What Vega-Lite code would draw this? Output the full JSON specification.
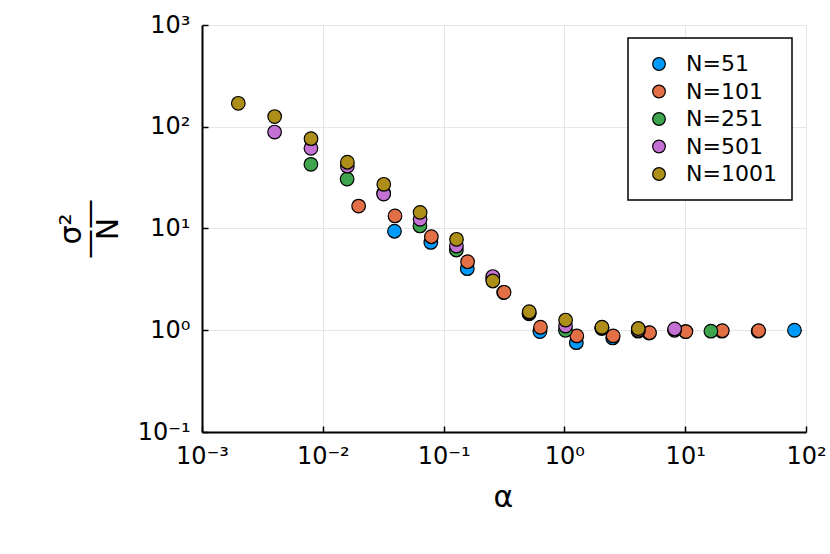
{
  "$schema": "https://vega.github.io/schema/vega-lite/v6.json",
  "width": 604,
  "height": 407,
  "autosize": "none",
  "padding": {"left": 202, "top": 25, "right": 24, "bottom": 122},
  "background": "white",
  "data": {
    "values": [
      {"series": "N=51", "alpha": 0.0392, "s": 9.4},
      {"series": "N=51", "alpha": 0.0784, "s": 7.3},
      {"series": "N=51", "alpha": 0.157, "s": 4.03},
      {"series": "N=51", "alpha": 0.314, "s": 2.35},
      {"series": "N=51", "alpha": 0.627, "s": 0.97},
      {"series": "N=51", "alpha": 1.255, "s": 0.755},
      {"series": "N=51", "alpha": 2.51, "s": 0.84},
      {"series": "N=51", "alpha": 5.02, "s": 0.94},
      {"series": "N=51", "alpha": 10.04, "s": 0.97},
      {"series": "N=51", "alpha": 20.08, "s": 0.98},
      {"series": "N=51", "alpha": 40.16, "s": 0.98},
      {"series": "N=51", "alpha": 80.3, "s": 1.0},
      {"series": "N=101", "alpha": 0.0198, "s": 16.6},
      {"series": "N=101", "alpha": 0.0396, "s": 13.3},
      {"series": "N=101", "alpha": 0.0792, "s": 8.3},
      {"series": "N=101", "alpha": 0.158, "s": 4.72},
      {"series": "N=101", "alpha": 0.317, "s": 2.36},
      {"series": "N=101", "alpha": 0.634, "s": 1.07},
      {"series": "N=101", "alpha": 1.267, "s": 0.88},
      {"series": "N=101", "alpha": 2.535, "s": 0.88},
      {"series": "N=101", "alpha": 5.07, "s": 0.946},
      {"series": "N=101", "alpha": 10.14, "s": 0.97},
      {"series": "N=101", "alpha": 20.28, "s": 0.99},
      {"series": "N=101", "alpha": 40.55, "s": 0.99},
      {"series": "N=251", "alpha": 0.00797, "s": 42.7},
      {"series": "N=251", "alpha": 0.0159, "s": 30.6},
      {"series": "N=251", "alpha": 0.0319, "s": 22.3},
      {"series": "N=251", "alpha": 0.0637, "s": 10.6},
      {"series": "N=251", "alpha": 0.1275, "s": 6.15},
      {"series": "N=251", "alpha": 0.255, "s": 3.2},
      {"series": "N=251", "alpha": 0.51, "s": 1.45},
      {"series": "N=251", "alpha": 1.02, "s": 1.0},
      {"series": "N=251", "alpha": 2.04, "s": 1.04},
      {"series": "N=251", "alpha": 4.08, "s": 0.98},
      {"series": "N=251", "alpha": 8.16, "s": 1.0},
      {"series": "N=251", "alpha": 16.32, "s": 0.98},
      {"series": "N=501", "alpha": 0.00399, "s": 88.7},
      {"series": "N=501", "alpha": 0.00798, "s": 61.4},
      {"series": "N=501", "alpha": 0.01597, "s": 41},
      {"series": "N=501", "alpha": 0.0319, "s": 21.8},
      {"series": "N=501", "alpha": 0.0639, "s": 12.3},
      {"series": "N=501", "alpha": 0.1277, "s": 6.73},
      {"series": "N=501", "alpha": 0.2555, "s": 3.37},
      {"series": "N=501", "alpha": 0.511, "s": 1.48},
      {"series": "N=501", "alpha": 1.022, "s": 1.1},
      {"series": "N=501", "alpha": 2.044, "s": 1.06},
      {"series": "N=501", "alpha": 4.088, "s": 1.0},
      {"series": "N=501", "alpha": 8.176, "s": 1.03},
      {"series": "N=1001", "alpha": 0.001998, "s": 170},
      {"series": "N=1001", "alpha": 0.003996, "s": 126},
      {"series": "N=1001", "alpha": 0.00799, "s": 76.4},
      {"series": "N=1001", "alpha": 0.01598, "s": 44.8},
      {"series": "N=1001", "alpha": 0.03197, "s": 27.2},
      {"series": "N=1001", "alpha": 0.0639, "s": 14.4},
      {"series": "N=1001", "alpha": 0.1279, "s": 7.83},
      {"series": "N=1001", "alpha": 0.2557, "s": 3.05},
      {"series": "N=1001", "alpha": 0.5115, "s": 1.52},
      {"series": "N=1001", "alpha": 1.023, "s": 1.26},
      {"series": "N=1001", "alpha": 2.046, "s": 1.07},
      {"series": "N=1001", "alpha": 4.092, "s": 1.04}
    ]
  },
  "mark": {"type": "point", "filled": true, "size": 185, "stroke": "black", "strokeWidth": 1.2, "opacity": 1},
  "encoding": {
    "x": {
      "field": "alpha", "type": "quantitative",
      "scale": {"type": "log", "domain": [0.001, 100], "nice": false},
      "axis": {
        "title": "α",
        "values": [0.001, 0.01, 0.1, 1, 10, 100],
        "titleX": 301, "titleY": 65, "titleBaseline": "middle"
      }
    },
    "y": {
      "field": "s", "type": "quantitative",
      "scale": {"type": "log", "domain": [0.1, 1000], "nice": false},
      "axis": {
        "title": ["σ²", "——", "N"],
        "values": [0.1, 1, 10, 100, 1000],
        "titleAngle": -90, "titleX": -131, "titleY": 203.5,
        "titleBaseline": "middle", "titleAlign": "center", "titleLineHeight": 18.5
      }
    },
    "color": {
      "field": "series", "type": "nominal",
      "scale": {
        "domain": ["N=51", "N=101", "N=251", "N=501", "N=1001"],
        "range": ["#009AFA", "#E36F47", "#3EA44E", "#C371D2", "#AC8E18"]
      },
      "legend": {
        "title": null, "orient": "none", "legendX": 426, "legendY": 13
      }
    }
  },
  "config": {
    "font": "DejaVu Sans",
    "view": {"stroke": null},
    "axis": {
      "domainColor": "black", "domainWidth": 2,
      "tickColor": "black", "tickWidth": 1.5, "tickSize": -6,
      "gridColor": "#e6e6e6", "gridWidth": 1,
      "labelFont": "DejaVu Sans", "labelFontSize": 24, "labelColor": "black", "labelFlush": false,
      "titleFont": "DejaVu Sans", "titleFontSize": 30, "titleFontWeight": "normal", "titleColor": "black",
      "labelExpr": "datum.value < 0.005 ? '10⁻³' : datum.value < 0.05 ? '10⁻²' : datum.value < 0.5 ? '10⁻¹' : datum.value < 5 ? '10⁰' : datum.value < 50 ? '10¹' : datum.value < 500 ? '10²' : '10³'"
    },
    "axisX": {"labelPadding": 18},
    "axisY": {"labelPadding": 18},
    "legend": {
      "strokeColor": "black", "strokeWidth": 1.5, "fillColor": "white",
      "padding": 15, "symbolOffset": 5, "labelOffset": 16, "rowPadding": 5.5,
      "labelFont": "DejaVu Sans", "labelFontSize": 22, "labelColor": "black",
      "symbolSize": 160, "symbolStrokeColor": "black", "symbolStrokeWidth": 1.2,
      "symbolType": "circle", "symbolOpacity": 1
    }
  }
}
